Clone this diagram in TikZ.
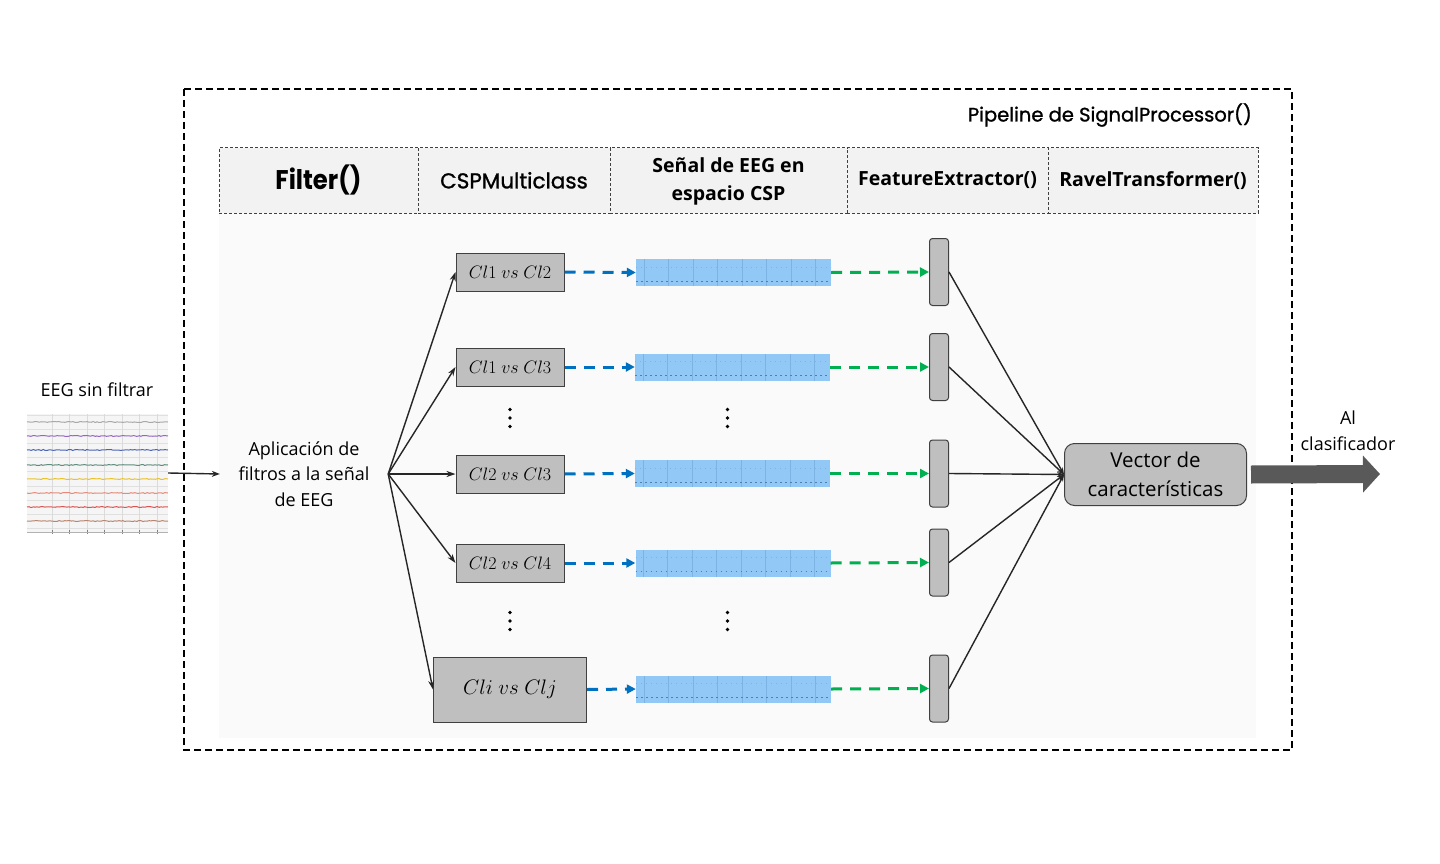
\documentclass[tikz,border=0pt]{standalone}
\usepackage{fix-cm}
\usepackage{fontspec}
\setmainfont{Open Sans}
\newfontfamily\geo{Poppins}
\newfontfamily\geomed[FakeBold=1.2]{Poppins}
\newfontfamily\geobf[FakeStretch=0.9]{Poppins}
\usetikzlibrary{arrows.meta,decorations.pathmorphing}
\definecolor{boxgray}{HTML}{BFBFBF}
\definecolor{boxline}{HTML}{404040}
\definecolor{hdrfill}{HTML}{F2F2F2}
\definecolor{areafill}{HTML}{FAFAFA}
\definecolor{arrblue}{HTML}{0070C0}
\definecolor{arrgreen}{HTML}{00B050}
\definecolor{bigarrow}{HTML}{595959}
\definecolor{stripblue}{HTML}{92C8F5}
\definecolor{stripline}{HTML}{7DB3E2}
\definecolor{stripdots}{HTML}{4F7FAE}
\definecolor{conn}{HTML}{262626}
\tikzset{
  hdr/.style={draw=boxline, dashed, dash pattern=on 3pt off 2pt, line width=0.8pt, fill=hdrfill,
    minimum height=65.5pt, inner sep=0pt, align=center},
  cspbox/.style={draw=boxline, line width=1pt, fill=boxgray, minimum width=108pt, minimum height=38pt, inner sep=0pt},
  featbox/.style={draw=boxline, line width=1pt, fill=boxgray, rounded corners=3pt, minimum width=19pt, minimum height=67pt, inner sep=0pt},
  strip/.style={fill=stripblue, minimum width=195pt, minimum height=27pt, inner sep=0pt,
    path picture={
      \foreach \xx in {8,32,57,81,106,130,155,179}{
        \draw[stripline, line width=0.6pt] ([xshift=\xx pt]path picture bounding box.south west) -- ([xshift=\xx pt]path picture bounding box.north west);}
      \draw[stripdots, line width=0.7pt, dash pattern=on 1.5pt off 3.5pt] ([yshift=5pt]path picture bounding box.south west) -- ([yshift=5pt]path picture bounding box.south east);
      \draw[stripline, line width=0.5pt, dash pattern=on 1pt off 4pt] ([yshift=19pt]path picture bounding box.south west) -- ([yshift=19pt]path picture bounding box.south east);
    }},
  bluearr/.style={arrblue, line width=3pt, dash pattern=on 11pt off 8pt, -{Triangle[length=9pt,width=9pt]}},
  greenarr/.style={arrgreen, line width=3pt, dash pattern=on 11pt off 8pt, -{Triangle[length=9pt,width=9pt]}},
  fan/.style={conn, line width=1.4pt, -{Stealth[length=9pt,width=6pt]}},
  conv/.style={conn, line width=1.4pt, -{Stealth[length=7pt,width=5pt]}},
  sig/.style={line width=1pt, decorate, decoration={random steps, segment length=2pt, amplitude=0.5pt}},
  lbl/.style={inner sep=0pt, align=center, font=\fontsize{18}{25.5}\selectfont},
  hdrbf/.style={font=\bfseries\fontsize{19.5}{29}\selectfont},
}
\begin{document}
\begin{tikzpicture}[x=1pt,y=-1pt]
\useasboundingbox (0,0) rectangle (1440,864);
\pgfmathsetseed{7}
% outer pipeline box
\draw[black, line width=1.2pt, dash pattern=on 7pt off 4pt] (184,89) rectangle (1292,750);
\node[anchor=east, inner sep=0pt, font=\geomed\fontsize{19.5}{22}\selectfont] (pipe) at (1252,115) {Pipeline de SignalProcessor()};
% inner area
\fill[areafill] (219,213) rectangle (1256,738);
% header row
\node[hdr, minimum width=199pt, font=\geobf\bfseries\fontsize{27}{30}\selectfont] (h1) at (318.5,180.3) {Filter()};
\node[hdr, minimum width=192pt, font=\geomed\fontsize{21.5}{26}\selectfont] (h2) at (514,180.3) {CSPMulticlass};
\node[hdr, hdrbf, minimum width=237pt] (h3) at (728.5,180.3) {\raisebox{-4pt}{\begin{tabular}{@{}c@{}}Señal de EEG en\\[-1pt]espacio CSP\end{tabular}}};
\node[hdr, hdrbf, minimum width=201pt] (h4) at (947.5,180.3) {\raisebox{-6pt}{FeatureExtractor()}};
\node[hdr, hdrbf, minimum width=210pt] (h5) at (1153,180.3) {\raisebox{-6pt}{RavelTransformer()}};

% EEG thumbnail
\node[lbl] (eegt) at (97,390) {EEG sin filtrar};
\node[inner sep=0pt, minimum width=141pt, minimum height=118pt, fill=white!96!black] (eeg) at (97.5,473) {};
\foreach \yy in {415,429,443,457,471,486,500,514,528}{
  \draw[white!88!black, line width=0.6pt] (27,\yy) -- (168,\yy);}
\foreach \xx in {52,69,87,104,122,139,157}{
  \draw[white!86!black, line width=0.6pt] (\xx,414) -- (\xx,532);
  \draw[white!50!black, line width=0.6pt] (\xx,530) -- (\xx,534);}
\draw[white!70!black, line width=0.5pt] (27,532) -- (168,532);
\foreach \yy/\cc in {422/A8A8A8, 436/9466C4, 450/4A64B4, 465/5E8C7C, 479/E8C22A, 493/E58A78, 507/D9534F, 521/B8846E}{
  \definecolor{sigc}{HTML}{\cc}
  \draw[sig, sigc] (27,\yy) -- (168,\yy);}

% filter node
\node[lbl, minimum width=168pt] (filt) at (304,474) {Aplicación de\\filtros a la señal\\de EEG};
\draw[conn, line width=1.4pt, -{Stealth[length=8pt,width=6pt]}] (eeg.east) -- (filt.west);

% CSP boxes
\node[cspbox, font=\fontsize{18}{20}\selectfont] (c1) at (510,272) {$Cl1\ vs\ Cl2$};
\node[cspbox, font=\fontsize{18}{20}\selectfont] (c2) at (510,367) {$Cl1\ vs\ Cl3$};
\node[cspbox, font=\fontsize{18}{20}\selectfont] (c3) at (510,474) {$Cl2\ vs\ Cl3$};
\node[cspbox, font=\fontsize{18}{20}\selectfont] (c4) at (510,563) {$Cl2\ vs\ Cl4$};
\node[cspbox, minimum width=153pt, minimum height=65pt, font=\fontsize{21}{24}\selectfont] (c5) at (510,689.5) {$Cli\ vs\ Clj$};

\foreach \t in {c1,c2,c3,c4,c5}{\draw[fan] (filt.east) -- (\t.west);}

% vertical dots
\foreach \xx in {510,727.5}{
  \foreach \yy in {418,621}{
    \fill (\xx,\yy-8.5) circle (1.8pt);
    \fill (\xx,\yy) circle (1.8pt);
    \fill (\xx,\yy+8.5) circle (1.8pt);}}

% strips
\node[strip] (s1) at (733.5,272.5) {};
\node[strip] (s2) at (732.5,367) {};
\node[strip] (s3) at (732.5,473.5) {};
\node[strip] (s4) at (733,563) {};
\node[strip] (s5) at (733.5,689) {};

% feature boxes
\node[featbox] (f1) at (939,272) {};
\node[featbox] (f2) at (939,367) {};
\node[featbox] (f3) at (939,473.5) {};
\node[featbox] (f4) at (939,562.5) {};
\node[featbox] (f5) at (939,688.5) {};

\foreach \i in {1,...,5}{
  \draw[bluearr] (c\i.east) -- (s\i.west);
  \draw[greenarr] (s\i.east) -- (f\i.west);}

% vector node
\node[draw=boxline, line width=1pt, fill=boxgray, rounded corners=10pt, minimum width=182pt, minimum height=62pt,
  inner sep=0pt, align=center, font=\fontsize{20.5}{29}\selectfont] (vec) at (1155.5,474.5) {Vector de\\características};
\foreach \i in {1,...,5}{\draw[conv] (f\i.east) -- (vec.west);}

% big output arrow
\coordinate (out) at (1380,474);
\draw[bigarrow, line width=18pt, -{Triangle[length=17pt,width=36pt]}] ([xshift=4pt]vec.east) -- (out);
\node[lbl, font=\fontsize{18}{26}\selectfont] (clas) at (1348,431) {Al\\clasificador};
\end{tikzpicture}
\end{document}
